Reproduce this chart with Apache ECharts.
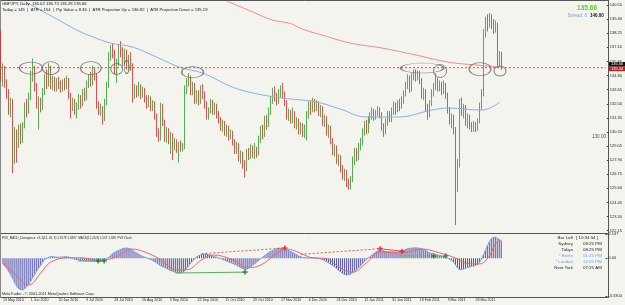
<!DOCTYPE html>
<html>
<head>
<meta charset="utf-8">
<script src="https://cdn.jsdelivr.net/npm/echarts@6.0.0/dist/echarts.min.js"></script>
<style>
  html, body { margin: 0; padding: 0; background: #f4f4ef; }
  #chart { width: 625px; height: 305px; }
</style>
</head>
<body>
<div id="chart"></div>
<script>
// GBPJPY daily, 13 May 2010 .. early Apr 2011, one row per bar: [open, close, low, high]
const candles = [
  [138.2,134.6,134.3,138.5],[134.6,135.3,133.9,135.8],[135.3,134.2,133.8,135.6],[134.2,133.4,132.9,134.5],
  [133.4,132.0,131.6,133.7],[132.0,132.6,131.4,133.0],[132.6,128.1,126.85,132.9],[128.1,129.9,127.6,130.6],
  [129.9,129.3,127.7,130.4],[129.3,130.4,128.9,130.8],[130.4,129.6,129.2,130.9],[129.6,130.7,129.3,131.0],
  [130.7,132.3,130.5,132.6],[132.3,131.9,131.4,132.9],[131.9,133.0,131.7,133.4],[133.0,134.9,132.8,135.2],
  [134.9,135.4,134.3,136.2],[135.4,133.8,133.5,135.6],[133.8,132.4,132.1,134.2],[132.4,132.6,130.4,133.1],
  [132.6,132.2,131.8,133.0],[132.2,133.5,132.0,133.8],[133.5,134.6,133.2,134.9],[134.6,134.2,133.7,135.3],
  [134.2,135.2,133.9,135.8],[135.2,134.0,133.7,135.6],[134.0,134.4,133.6,134.8],[134.4,133.8,133.5,134.7],
  [133.8,134.3,133.5,134.6],[134.3,134.0,133.7,134.7],[134.0,133.7,133.4,134.4],[133.7,134.2,133.5,134.5],
  [134.2,133.9,133.6,134.6],[133.9,134.4,133.7,134.8],[134.4,133.2,132.9,134.6],[133.2,132.2,131.3,133.4],
  [132.2,132.6,131.9,133.0],[132.6,131.9,131.6,132.9],[131.9,132.3,131.3,132.6],[132.3,132.9,132.0,133.3],
  [132.9,132.5,132.1,133.2],[132.5,133.4,132.3,133.7],[133.4,133.0,132.7,133.8],[133.0,134.1,132.8,134.4],
  [134.1,134.6,133.8,134.9],[134.6,134.3,133.9,135.1],[134.3,135.1,134.0,135.6],[135.1,134.8,134.4,135.4],
  [134.8,132.4,132.1,135.0],[132.4,131.9,131.6,132.7],[131.9,132.1,131.5,132.5],[132.1,131.3,130.8,132.3],
  [131.3,132.6,131.1,132.9],[132.6,134.0,132.4,134.3],[134.0,136.4,133.8,136.7],[136.4,137.0,136.0,137.3],
  [137.0,136.6,136.2,137.4],[136.6,135.2,134.9,136.9],[135.2,135.9,134.2,136.2],[135.9,137.0,135.6,137.3],
  [137.0,136.7,136.3,137.6],[136.7,136.0,135.6,137.1],[136.0,136.6,135.6,137.0],[136.6,135.8,135.3,136.9],
  [135.8,136.3,135.1,136.5],[136.3,135.6,135.2,136.7],[135.6,133.3,132.6,135.8],[133.3,133.7,132.9,134.1],
  [133.7,133.5,133.0,134.0],[133.5,133.9,133.1,134.3],[133.9,133.2,132.9,134.1],[133.2,133.6,133.0,133.9],
  [133.6,132.9,132.6,133.8],[132.9,132.5,132.1,133.2],[132.5,132.9,132.2,133.2],[132.9,132.2,131.9,133.1],
  [132.2,132.5,131.9,132.8],[132.5,131.5,131.2,132.7],[131.5,130.1,129.8,131.7],[130.1,129.7,129.4,130.5],
  [129.7,132.3,129.5,132.6],[132.3,131.0,130.7,132.5],[131.0,129.7,129.4,131.2],[129.7,130.2,129.3,130.6],
  [130.2,129.5,129.2,130.5],[129.5,129.9,128.4,130.2],[129.9,129.0,127.9,130.1],[129.0,129.4,128.7,129.7],
  [129.4,128.8,128.5,129.6],[128.8,129.2,127.7,129.4],[129.2,128.9,128.6,129.5],[128.9,129.0,128.6,129.3],
  [129.0,133.7,128.8,134.0],[133.7,134.2,133.3,134.6],[134.2,134.6,133.9,135.0],[134.6,133.5,133.2,134.8],
  [133.5,134.0,133.2,134.3],[134.0,132.8,132.5,134.2],[132.8,133.3,132.5,133.6],[133.3,132.7,132.4,133.6],
  [132.7,133.7,132.5,134.0],[133.7,133.3,132.9,134.1],[133.3,132.4,132.1,133.5],[132.4,131.5,131.2,132.7],
  [131.5,132.0,131.2,132.2],[132.0,132.6,131.7,132.9],[132.6,131.9,131.6,132.8],[131.9,132.3,131.6,132.6],
  [132.3,131.6,131.3,132.5],[131.6,131.2,130.9,131.9],[131.2,130.6,130.3,131.4],[130.6,130.9,130.2,131.2],
  [130.9,130.2,129.9,131.1],[130.2,130.5,129.8,130.8],[130.5,129.8,129.5,130.7],[129.8,130.1,129.6,130.4],
  [130.1,129.4,129.1,130.3],[129.4,128.7,128.4,129.6],[128.7,129.1,128.4,129.4],[129.1,128.1,127.8,129.3],
  [128.1,128.4,127.6,128.7],[128.4,127.5,127.2,128.6],[127.5,127.2,126.5,127.9],[127.2,128.6,127.0,128.8],
  [128.6,128.3,127.9,128.9],[128.3,128.9,128.0,129.2],[128.9,128.4,128.1,129.1],[128.4,128.8,128.0,129.3],
  [128.8,128.5,128.1,129.0],[128.5,129.6,128.3,129.9],[129.6,130.4,129.3,130.7],[130.4,130.0,129.6,130.8],
  [130.0,131.2,129.8,131.5],[131.2,130.8,130.4,131.6],[130.8,131.9,130.6,132.2],[131.9,132.8,131.6,133.1],
  [132.8,133.5,132.5,133.8],[133.5,133.1,132.7,133.9],[133.1,132.7,132.4,133.4],[132.7,133.4,132.5,133.7],
  [133.4,133.8,133.0,134.0],[133.8,133.2,132.9,134.2],[133.2,132.6,132.3,133.5],[132.6,131.5,131.2,132.8],
  [131.5,131.8,131.1,132.1],[131.8,131.2,130.9,132.0],[131.2,131.6,130.9,132.2],[131.6,130.8,130.5,131.9],
  [130.8,131.1,130.4,131.4],[131.1,130.3,130.0,131.3],[130.3,130.7,130.0,131.0],[130.7,130.1,129.8,130.9],
  [130.1,130.4,129.7,130.8],[130.4,131.6,129.5,131.9],[131.6,132.4,131.3,132.7],[132.4,132.0,131.6,132.8],
  [132.0,132.7,131.8,133.0],[132.7,132.2,131.8,132.9],[132.2,132.5,131.9,132.8],[132.5,131.8,131.5,132.7],
  [131.8,132.1,131.4,132.4],[132.1,131.0,130.7,132.3],[131.0,131.3,130.6,131.6],[131.3,130.2,129.9,131.5],
  [130.2,130.5,129.7,130.8],[130.5,129.5,129.2,130.7],[129.5,128.6,128.3,129.7],[128.6,128.9,128.2,129.2],
  [128.9,127.9,127.6,129.1],[127.9,128.1,127.4,128.4],[128.1,127.2,126.9,128.3],[127.2,126.6,126.3,127.5],
  [126.6,126.9,126.2,127.2],[126.9,126.0,125.7,127.1],[126.0,125.8,125.5,126.4],[125.8,126.3,125.5,126.6],
  [126.3,127.9,126.1,128.2],[127.9,128.6,127.5,128.9],[128.6,128.2,127.8,128.9],[128.2,129.0,127.9,129.3],
  [129.0,129.4,128.7,129.7],[129.4,130.2,129.1,130.5],[130.2,130.8,129.9,131.1],[130.8,130.4,130.0,131.2],
  [130.4,131.2,130.1,131.5],[131.2,131.5,130.9,131.8],[131.5,131.9,131.2,132.2],[131.9,131.4,131.1,132.1],
  [131.4,131.8,131.2,132.0],[131.8,132.0,131.5,132.3],[132.0,131.6,131.3,132.2],[131.6,130.6,130.3,131.8],
  [130.6,130.2,129.8,130.9],[130.2,131.0,130.0,131.3],[131.0,131.6,130.7,131.9],[131.6,131.3,131.0,131.9],
  [131.3,131.9,131.0,132.2],[131.9,132.4,131.6,132.7],[132.4,132.0,131.6,132.6],[132.0,132.6,131.8,132.8],
  [132.6,132.3,131.9,132.9],[132.3,132.8,132.1,133.1],[132.8,133.3,132.5,133.6],[133.3,134.0,133.1,134.3],
  [134.0,134.6,133.7,134.9],[134.6,133.7,133.4,134.8],[133.7,134.7,133.5,135.0],[134.7,134.9,134.4,135.3],
  [134.9,134.6,134.3,135.3],[134.6,135.0,134.4,135.2],[135.0,134.4,134.1,135.2],[134.4,133.2,132.9,134.6],
  [133.2,133.5,132.8,133.8],[133.5,132.2,131.9,133.7],[132.2,131.6,131.2,132.5],[131.6,132.5,131.4,132.8],
  [132.5,133.4,132.3,133.7],[133.4,133.9,133.1,134.2],[133.9,134.3,133.6,135.0],[134.3,133.8,133.5,134.6],
  [133.8,134.1,133.5,134.4],[134.1,133.5,133.2,134.3],[133.5,134.0,133.3,134.4],[134.0,133.2,132.9,134.2],
  [133.2,132.0,131.7,133.4],[132.0,131.1,130.8,132.2],[131.1,131.4,130.5,131.7],[131.4,130.4,130.0,131.6],
  [130.4,125.7,122.6,130.6],[125.7,127.6,125.3,128.0],[127.6,132.7,127.3,132.9],[132.7,131.8,131.5,133.0],
  [131.8,132.2,131.3,132.5],[132.2,131.0,130.7,132.4],[131.0,131.4,130.5,131.7],[131.4,130.7,130.4,131.6],
  [130.7,130.5,130.2,131.0],[130.5,130.8,130.2,131.1],[130.8,130.4,130.2,131.0],[130.4,131.0,130.3,131.3],
  [131.0,132.3,130.9,132.6],[132.3,133.4,132.0,133.7],[133.4,138.2,133.1,138.6],[138.2,139.3,137.9,139.6],
  [139.3,139.0,138.4,139.8],[139.0,139.5,138.7,139.9],[139.5,139.1,138.6,139.8],[139.1,138.6,138.2,139.4],
  [138.6,138.9,138.3,139.3],[138.9,135.9,135.6,139.1],[135.9,136.02,135.5,136.8],[136.02,135.66,135.28,136.73]
];

// moving averages, sampled [barIndex, price]
const maBlue = [[6,141.5],[11,140.96],[20,140.12],[28,139.41],[38,138.51],[46,137.95],[55,137.45],[66,137.12],
  [78,136.3],[90,135.45],[101,135.0],[116,133.86],[127,133.35],[141,132.97],[158,132.64],[170,132.07],
  [183,131.42],[199,131.42],[216,131.99],[224,132.15],[241,131.99],[250,132.64]];
const maRed = [[108,141.3],[112,140.96],[124,140.14],[136,139.33],[145,139.05],[151,138.59],[163,138.0],
  [175,137.45],[191,137.04],[208,136.47],[224,135.9],[238,135.66],[251,135.49]];

// PVX MACD main, one value per bar
const macd = [
  -0.5,-0.7,-0.9,-1.2,-1.5,-1.8,-2.2,-2.5,-2.7,-2.8,-2.8,-2.7,
  -2.5,-2.3,-2.0,-1.7,-1.4,-1.1,-0.85,-0.6,-0.35,-0.1,0.05,0.1,
  0.15,0.15,0.12,0.1,0.1,0.1,0.12,0.14,0.13,0.12,0.05,-0.02,
  -0.08,-0.12,-0.15,-0.17,-0.18,-0.2,-0.22,-0.23,-0.24,-0.25,-0.25,-0.24,
  -0.24,-0.25,-0.22,-0.18,-0.1,0.05,0.2,0.38,0.5,0.6,0.66,0.75,
  0.84,0.9,0.92,0.9,0.85,0.75,0.62,0.5,0.4,0.3,0.2,0.12,
  0.05,0.0,-0.08,-0.15,-0.25,-0.35,-0.5,-0.62,-0.7,-0.77,-0.85,-0.95,
  -1.05,-1.12,-1.2,-1.25,-1.28,-1.3,-1.28,-1.2,-1.0,-0.78,-0.55,-0.35,
  -0.15,0.05,0.2,0.28,0.33,0.37,0.38,0.36,0.32,0.25,0.18,0.12,
  0.06,0.02,-0.05,-0.12,-0.2,-0.28,-0.35,-0.4,-0.45,-0.55,-0.65,-0.75,
  -0.85,-0.95,-1.03,-0.95,-0.85,-0.72,-0.6,-0.45,-0.3,-0.15,0.0,0.12,
  0.25,0.4,0.52,0.62,0.7,0.78,0.84,0.9,0.91,0.88,0.82,0.75,
  0.7,0.6,0.5,0.4,0.3,0.2,0.12,0.08,0.05,0.03,0.03,0.04,
  0.05,0.04,0.02,0.0,-0.05,-0.12,-0.2,-0.3,-0.4,-0.52,-0.62,-0.75,
  -0.9,-1.05,-1.2,-1.32,-1.42,-1.48,-1.48,-1.4,-1.28,-1.15,-1.0,-0.86,
  -0.7,-0.5,-0.3,-0.1,0.05,0.15,0.3,0.45,0.58,0.68,0.73,0.7,
  0.64,0.6,0.58,0.57,0.56,0.56,0.55,0.56,0.6,0.66,0.72,0.8,
  0.86,0.88,0.9,0.92,0.93,0.92,0.9,0.85,0.78,0.68,0.56,0.47,
  0.42,0.38,0.35,0.3,0.25,0.2,0.15,0.1,0.0,-0.1,-0.2,-0.33,
  -0.6,-0.85,-1.03,-1.0,-0.95,-0.9,-0.82,-0.77,-0.72,-0.68,-0.64,-0.59,
  -0.4,-0.1,0.3,0.7,1.1,1.45,1.72,1.85,1.88,1.78,1.66,1.56
];
// signal line, sampled [barIndex, value]
const signalPts = [[0,-0.4],[6,-1.4],[13,-2.36],[19,-1.3],[24,-0.35],[33,0.05],[38,0.05],[50,-0.15],
  [56,0.05],[65,0.82],[71,0.58],[78,0.03],[88,-1.03],[93,-1.0],[100,-0.15],[106,0.29],[116,-0.15],
  [123,-0.83],[130,-0.59],[138,0.44],[143,0.82],[150,0.44],[156,0.03],[162,0.0],[170,-0.86],[176,-1.23],
  [183,-0.42],[190,0.56],[200,0.47],[211,0.82],[220,0.47],[228,0.03],[233,-0.42],[240,-0.5],[245,0.2],
  [248,1.25],[251,1.59]];

// divergence trend lines drawn by the indicator
const divGreen = [[[38,-0.24],[51,-0.24]], [[87,-1.3],[122,-1.22]]];
const divGreenDash = [[[200,0.22],[223,0.2]]];
const divRedDash = [[[100,0.4],[142,0.91]], [[150,0.35],[190,0.85]]];
const divRed = [[[190,0.85],[201,0.62]]];
const divMarks = [[48,-0.24,'g'],[51,-0.24,'g'],[122,-1.22,'g'],[217,0.2,'g'],[223,0.2,'g'],
  [142,0.91,'r'],[190,0.85,'r'],[201,0.62,'r']];

// ellipses drawn on the chart: [barIndex, price, width px, height px]
const ellipses = [[15,135.41,23,12],[25,135.41,17,13],[45,135.41,21,13],[58,135.33,12,11],[63,135.5,5,13],
  [96,135.08,22,11],[211,135.41,43,10],[220,135.17,13,13],[240,135.33,22,13],[250,135.17,12,10]];

const priceTicks = [122.15,123.30,124.45,125.60,126.75,127.90,129.05,130.20,131.35,132.50,
  133.65,134.80,135.95,137.10,138.25,139.40,140.55];
const macdTicks = [2.147, 0, -3.3304];
const dateLabels = ['13 May 2010','1 Jun 2010','20 Jun 2010','9 Jul 2010','28 Jul 2010','16 Aug 2010',
  '3 Sep 2010','22 Sep 2010','11 Oct 2010','29 Oct 2010','17 Nov 2010','6 Dec 2010','24 Dec 2010',
  '12 Jan 2011','31 Jan 2011','18 Feb 2011','9 Mar 2011','28 Mar 2011'];
const levelLine = 135.44;
const bidPrice = 135.66;

const SLOTS = 304;          // bar slots incl. chart shift on the right
const LABEL_STEP = 14;
const FONT = '"Liberation Sans", Arial, sans-serif';
const slots = Array.from({ length: SLOTS }, (_, i) => String(i));

const chart = echarts.init(document.getElementById('chart'), null, { renderer: 'canvas' });

function txt(x, y, text, size, fill, align, weight) {
  return {
    type: 'text', x: x, y: y, silent: true, z: 100,
    style: { text: text, font: (weight || 'normal') + ' ' + size + 'px ' + FONT, fill: fill,
      align: align || 'left', verticalAlign: 'middle' }
  };
}
function box(x, y, w, h, fill) {
  return { type: 'rect', silent: true, z: 99, shape: { x: x, y: y, width: w, height: h }, style: { fill: fill } };
}
function hline(x1, x2, y) {
  return { type: 'line', silent: true, shape: { x1: x1, y1: y, x2: x2, y2: y }, style: { stroke: '#555', lineWidth: 1 } };
}

const plusPath = 'path://M2,0H4V2H6V4H4V6H2V4H0V2H2Z';

const divSeries = [];
divGreen.forEach(d => divSeries.push({ type: 'line', xAxisIndex: 1, yAxisIndex: 1, data: d, showSymbol: false,
  lineStyle: { color: '#55b055', width: 1 }, z: 5 }));
divGreenDash.forEach(d => divSeries.push({ type: 'line', xAxisIndex: 1, yAxisIndex: 1, data: d, showSymbol: false,
  lineStyle: { color: '#55b055', width: 1, type: [2, 2] }, z: 5 }));
divRedDash.forEach(d => divSeries.push({ type: 'line', xAxisIndex: 1, yAxisIndex: 1, data: d, showSymbol: false,
  lineStyle: { color: '#e05050', width: 1, type: [2, 2] }, z: 5 }));
divRed.forEach(d => divSeries.push({ type: 'line', xAxisIndex: 1, yAxisIndex: 1, data: d, showSymbol: false,
  lineStyle: { color: '#e05050', width: 1 }, z: 5 }));

chart.setOption({
  animation: false,
  backgroundColor: '#f4f4ef',
  grid: [
    { left: 0, right: 17, top: 2, height: 230 },
    { left: 0, right: 17, top: 234, height: 62 }
  ],
  xAxis: [
    { type: 'category', gridIndex: 0, data: slots, boundaryGap: true,
      axisLine: { show: false }, axisTick: { show: false }, axisLabel: { show: false }, splitLine: { show: false } },
    { type: 'category', gridIndex: 1, data: slots, boundaryGap: true,
      axisLine: { show: false }, axisTick: { show: false }, splitLine: { show: false },
      axisLabel: {
        interval: (i) => i % LABEL_STEP === 0 && i / LABEL_STEP < dateLabels.length,
        formatter: (v, i) => dateLabels[i / LABEL_STEP] || '',
        align: 'left', fontSize: 3.6, color: '#222', margin: 2, fontFamily: FONT
      } }
  ],
  yAxis: [
    { type: 'value', gridIndex: 0, position: 'right', min: 122.04, max: 140.80,
      axisLine: { show: false }, splitLine: { show: false },
      axisTick: { show: true, customValues: priceTicks, length: 2, lineStyle: { color: '#444' } },
      axisLabel: { customValues: priceTicks, formatter: v => v.toFixed(2), fontSize: 4, color: '#222',
        margin: 3, fontFamily: FONT } },
    { type: 'value', gridIndex: 1, position: 'right', min: -3.3304, max: 2.147,
      axisLine: { show: false }, splitLine: { show: false },
      axisTick: { show: true, customValues: macdTicks, length: 2, lineStyle: { color: '#444' } },
      axisLabel: { customValues: macdTicks, formatter: v => (v === 0 ? '0.00' : String(v)), fontSize: 4,
        color: '#222', margin: 3, fontFamily: FONT } }
  ],
  series: [
    {
      type: 'candlestick', xAxisIndex: 0, yAxisIndex: 0, data: candles, barWidth: 1,
      itemStyle: { color: '#2f9a2f', color0: '#d42a2a', borderColor: '#2f9a2f', borderColor0: '#d42a2a', borderWidth: 0.8 }
    },
    // horizontal level: a flat line through the price scale
    { type: 'line', xAxisIndex: 0, yAxisIndex: 0, showSymbol: false, silent: true, z: 4,
      data: [[0, levelLine], [SLOTS - 1, levelLine]],
      lineStyle: { color: '#ff3c3c', width: 1, type: [2, 2] } },
    { type: 'line', xAxisIndex: 0, yAxisIndex: 0, data: maBlue, smooth: 0.4, showSymbol: false,
      lineStyle: { color: '#8cafdc', width: 1 }, z: 3 },
    { type: 'line', xAxisIndex: 0, yAxisIndex: 0, data: maRed, smooth: 0.4, showSymbol: false,
      lineStyle: { color: '#f08a8a', width: 1 }, z: 3 },
    { type: 'scatter', xAxisIndex: 0, yAxisIndex: 0, silent: true, z: 6,
      data: ellipses.map(e => ({ value: [e[0], e[1]], symbolSize: [e[2], e[3]] })),
      symbol: 'circle',
      itemStyle: { color: 'rgba(0,0,0,0)', borderColor: '#6a6a6a', borderWidth: 1 } },
    { type: 'bar', xAxisIndex: 1, yAxisIndex: 1, data: macd, barWidth: 1,
      itemStyle: { color: '#5252a8' } },
    { type: 'line', xAxisIndex: 1, yAxisIndex: 1, data: macd, showSymbol: false,
      lineStyle: { color: '#78a6e8', width: 1 }, z: 3 },
    { type: 'line', xAxisIndex: 1, yAxisIndex: 1, data: signalPts, smooth: 0.4, showSymbol: false,
      lineStyle: { color: '#f06464', width: 1 }, z: 4 },
    ...divSeries,
    { type: 'scatter', xAxisIndex: 1, yAxisIndex: 1, silent: true, z: 7, symbol: plusPath, symbolSize: 5,
      data: divMarks.map(m => ({ value: [m[0], m[1]], itemStyle: { color: m[2] === 'g' ? '#1f7a1f' : '#e02020' } })) }
  ],
  graphic: [
    hline(0, 608.5, 0.5), hline(0, 608.5, 233.5), hline(0, 608.5, 297.5),
    { type: 'line', silent: true, shape: { x1: 608.5, y1: 0, x2: 608.5, y2: 298 }, style: { stroke: '#555', lineWidth: 1 } },
    { type: 'line', silent: true, shape: { x1: 0.5, y1: 0, x2: 0.5, y2: 298 }, style: { stroke: '#888', lineWidth: 1 } },
    // bid / level price boxes on the scale
    box(609, 62, 16, 4.6, '#111'), txt(611, 64.3, bidPrice.toFixed(2), 4, '#fff'),
    box(609, 66.6, 16, 4.6, '#b82020'), txt(611, 68.9, levelLine.toFixed(2), 4, '#fff'),
    txt(2, 4, 'GBPJPY, Daily  136.02 136.73 135.28 135.66', 4.2, '#111'),
    txt(2, 9.5, 'Today = 145  |  ATR = 154  |  Pip Value = 8.36  |  ATR Projection Up = 136.82  |  ATR Projection Down = 135.19', 4.2, '#111'),
    txt(597, 8, '135.66', 6.5, '#55d21e', 'right', 'bold'),
    txt(587, 15.5, 'Spread: 6', 4.5, '#7fa2d6', 'right'),
    txt(590, 15.5, '140.00', 4.5, '#111', 'left', 'bold'),
    txt(606, 137, '130.00', 4.6, '#555', 'right'),
    txt(2, 238, 'PVX_MACD_Divergence_v1-1(12, 26, 9) 1.5573 1.5887  MACD(12,26,9) 1.557 1.589  PVX Clock', 3, '#222'),
    txt(2, 294, 'MetaTrader - \u00a9 2001-2011 MetaQuotes Software Corp.', 3.8, '#222'),
    txt(573, 237.5, 'Bar Left', 4.4, '#222', 'right'),
    txt(576, 237.5, '[ 10:34:54 ]', 4.4, '#222'),
    txt(573, 243.5, 'Sydney', 4.4, '#222', 'right'),
    txt(583, 243.5, '09:25 PM', 4.4, '#222'),
    txt(573, 249.5, 'Tokyo', 4.4, '#222', 'right'),
    txt(583, 249.5, '08:25 PM', 4.4, '#222'),
    txt(573, 255.5, '* Berlin', 4.4, '#6f9ad8', 'right'),
    txt(583, 255.5, '01:25 PM', 4.4, '#6f9ad8'),
    txt(573, 261.5, '* London', 4.4, '#6f9ad8', 'right'),
    txt(583, 261.5, '12:25 PM', 4.4, '#6f9ad8'),
    txt(573, 267.5, 'New York', 4.4, '#222', 'right'),
    txt(583, 267.5, '07:25 AM', 4.4, '#222')
  ]
});
</script>
</body>
</html>
